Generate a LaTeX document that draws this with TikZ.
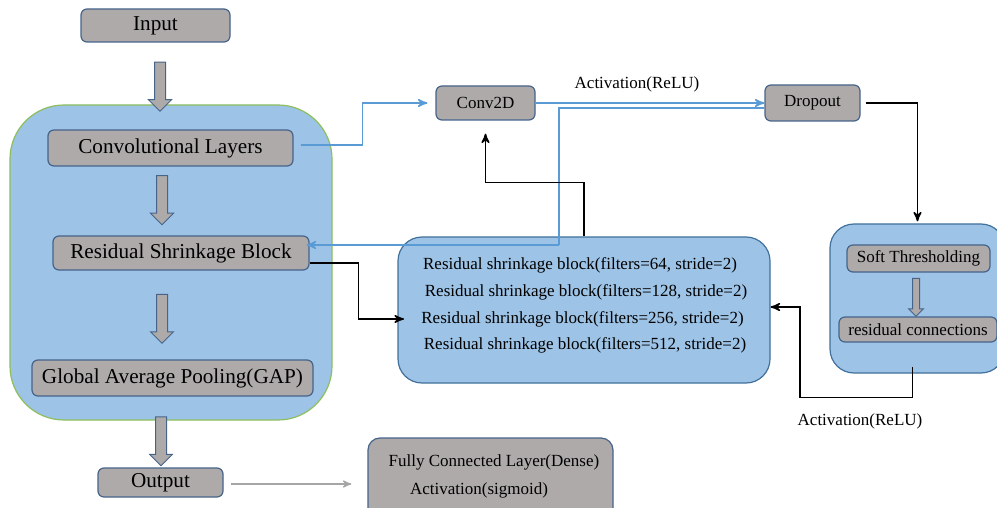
\documentclass[tikz,border=0pt]{standalone}
\usepackage{fontspec}
\setmainfont{Liberation Serif}
\usepackage{tikz}
\usetikzlibrary{arrows,shapes.arrows}
\definecolor{boxgray}{HTML}{AEAAAA}
\definecolor{boxedge}{HTML}{46648A}
\definecolor{panelblue}{HTML}{9DC3E6}
\definecolor{paneledge}{HTML}{41719C}
\definecolor{panelgreen}{HTML}{8DBF5E}
\definecolor{linkblue}{HTML}{5B9BD5}
\definecolor{linkgray}{HTML}{A6A6A6}

\begin{document}
\begin{tikzpicture}[x=0.5pt,y=-0.5pt,>=stealth',line width=0.75pt]
  \tikzstyle{big}=[font=\fontsize{10.6}{12}\selectfont]
  \tikzstyle{small}=[font=\fontsize{8.5}{10}\selectfont]
  \tikzstyle{graybox}=[draw=boxedge,fill=boxgray,rounded corners=3pt,line width=0.6pt,inner sep=2pt]
  \tikzstyle{panel}=[draw=paneledge,fill=panelblue,line width=0.6pt]
  \tikzstyle{blockarrow}=[single arrow,shape border rotate=270,draw=boxedge,fill=boxgray,line width=0.5pt,
                          single arrow head indent=0pt]
  \tikzstyle{bigarrow}=[blockarrow,inner sep=2.5pt,single arrow head extend=3pt,minimum height=24.5pt]
  \tikzstyle{blueline}=[->,draw=linkblue]
  \tikzstyle{blackline}=[->,draw=black]

  \useasboundingbox (0,0) rectangle (997,508);
  \clip (0,0) rectangle (997,508);

  \node[panel,draw=panelgreen,rounded corners=27pt,minimum width=161pt,minimum height=157.5pt] (left) at (171,262.5) {};
  \node[panel,rounded corners=12pt,minimum width=186pt,minimum height=73pt] (rsbpanel) at (584,310) {};
  \node[panel,rounded corners=12pt,minimum width=87.5pt,minimum height=74.5pt] (rpanel) at (917.5,298.5) {};

  \node[graybox,big,minimum width=74.5pt,minimum height=16.5pt] (input) at (155.5,25.5) {Input};
  \node[graybox,big,minimum width=122.5pt,minimum height=18pt] (conv) at (170.5,148) {Convolutional Layers};
  \node[graybox,big,minimum width=128pt,minimum height=17pt] (rsb) at (181,253) {Residual Shrinkage Block};
  \node[graybox,big,minimum width=140.5pt,minimum height=18pt] (gap) at (172.5,378) {Global Average Pooling(GAP)};
  \node[graybox,big,minimum width=62.5pt,minimum height=14.5pt] (out) at (160.5,482.5) {Output};

  \node[bigarrow] (ar1) at (160,84) {};
  \node[bigarrow] (ar2) at (162,197.5) {};
  \node[bigarrow] (ar3) at (162,316) {};
  \node[bigarrow] (ar4) at (161,438.5) {};

  \node[graybox,small,rounded corners=6pt,minimum width=122.5pt,minimum height=41pt] (fc) at (490.5,479) {};
  \node[small] (fc1) at (494,462) {Fully Connected Layer(Dense)};
  \node[small] (fc2) at (479,490) {Activation(sigmoid)};

  \node[graybox,small,minimum width=49.5pt,minimum height=17pt] (conv2d) at (485.5,103) {Conv2D};
  \node[graybox,small,minimum width=47.5pt,minimum height=18pt] (drop) at (812.5,103) {Dropout};

  \node[small] (l1) at (580,265) {Residual shrinkage block(filters=64, stride=2)};
  \node[small] (l2) at (586,292) {Residual shrinkage block(filters=128, stride=2)};
  \node[small] (l3) at (582.5,319) {Residual shrinkage block(filters=256, stride=2)};
  \node[small] (l4) at (585,345) {Residual shrinkage block(filters=512, stride=2)};

  \node[graybox,small,minimum width=71.5pt,minimum height=13.5pt] (soft) at (918.5,258.5) {Soft Thresholding};
  \node[blockarrow,inner sep=1.5pt,single arrow head extend=2pt,minimum height=19pt] (ar5) at (916,295.5) {};
  \node[graybox,small,minimum width=79pt,minimum height=12.5pt] (resc) at (918,329.5) {residual connections};

  \node[small] (act1) at (637,84) {Activation(ReLU)};
  \node[small] (act2) at (860,421) {Activation(ReLU)};

  \coordinate (jb) at (559,245);
  \coordinate (back) at (800,307);

  \draw[blueline,shorten <=3.5pt,shorten >=4pt] ([yshift=1.5pt]conv.east) -- ++(69,0) |- (conv2d.west);
  \draw[blueline] (conv2d.east) -- (drop.west);
  \draw[linkblue] ([yshift=-2.5pt]drop.west) -| (jb);
  \draw[blueline,shorten >=-1.5pt] (jb) -- ([yshift=4pt]rsb.east);
  \draw[blackline,shorten >=6.5pt] (rsbpanel.north) -- ++(0,-54) -| (conv2d.south);
  \draw[blackline,shorten >=5pt] ([yshift=-5pt]rsb.east) -- ++(49,0) |- (l3.west);
  \draw[blackline,shorten <=2.5pt,shorten >=1pt] (drop.east) -| (rpanel.north);
  \draw[blackline] ([xshift=-2.5pt,yshift=3.5pt]rpanel.south) -- ++(0,31) -| (back) -- (rsbpanel.east |- back);
  \draw[->,draw=linkgray,line width=0.6pt,shorten <=3.5pt,shorten >=8pt] ([yshift=-0.75pt]out.east) -- ([yshift=-0.75pt]out.east -| fc.west);
\end{tikzpicture}
\end{document}
